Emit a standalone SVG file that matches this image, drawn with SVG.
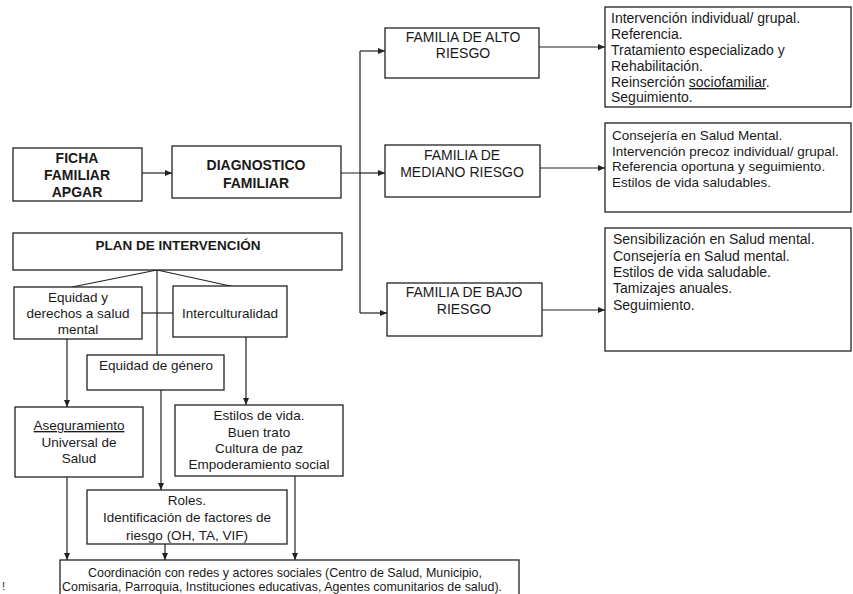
<svg xmlns="http://www.w3.org/2000/svg" width="853" height="594" viewBox="0 0 853 594">
<style>
rect{fill:#fff;stroke:#222;stroke-width:1.3}
text{font-family:"Liberation Sans",Arial,sans-serif;fill:#1a1a1a}
.b{font-weight:bold;font-size:14px;text-anchor:middle}
.m{font-size:13.5px;text-anchor:middle}
.f{font-size:14px;text-anchor:middle}
.l{font-size:14px}
.l2{font-size:13.5px}
.c{font-size:13px}
.ln{stroke:#222;stroke-width:1.2;fill:none}
.ar{stroke:#222;stroke-width:1.2;fill:none;marker-end:url(#ah)}
</style>
<defs>
<marker id="ah" markerWidth="8" markerHeight="6" refX="7" refY="3" orient="auto" markerUnits="userSpaceOnUse">
<path d="M0,0 L7,3 L0,6 Z" fill="#222"/>
</marker>
</defs>
<rect x="0" y="0" width="853" height="594" style="fill:#fff;stroke:none"/>
<g id="connectors">
<path class="ar" d="M142,173 H172"/>
<path class="ln" d="M341,173 H360 M360,51 V313"/>
<path class="ar" d="M360,51 H385"/>
<path class="ar" d="M360,173 H385"/>
<path class="ar" d="M360,313 H387"/>
<path class="ar" d="M539,47 H605"/>
<path class="ar" d="M540,168 H605"/>
<path class="ar" d="M542,310 H605"/>
<path class="ln" d="M157,270 L72,287 M157,270 L235,287 M157,270 V355"/>
<path class="ln" d="M142,313 H173"/>
<path class="ar" d="M67,339 V407"/>
<path class="ar" d="M246,337 V405"/>
<path class="ar" d="M161,390 V490"/>
<path class="ar" d="M67,477 V560"/>
<path class="ar" d="M165,544 V560"/>
<path class="ar" d="M295,476 V560"/>
</g>
<g id="ficha">
<rect x="13" y="148" width="129" height="53"/>
<text class="b" x="77" y="163">FICHA</text>
<text class="b" x="77" y="180">FAMILIAR</text>
<text class="b" x="77" y="197">APGAR</text>
</g>
<g id="diagnostico">
<rect x="172" y="146" width="169" height="52"/>
<text class="b" x="256" y="170">DIAGNOSTICO</text>
<text class="b" x="256" y="188">FAMILIAR</text>
</g>
<g id="alto">
<rect x="385" y="28" width="154" height="50"/>
<text class="f" x="463" y="42">FAMILIA DE ALTO</text>
<text class="f" x="463" y="58">RIESGO</text>
</g>
<g id="mediano">
<rect x="385" y="145" width="155" height="52"/>
<text class="f" x="462" y="160">FAMILIA DE</text>
<text class="f" x="462" y="177">MEDIANO RIESGO</text>
</g>
<g id="bajo">
<rect x="387" y="283" width="155" height="53"/>
<text class="f" x="464" y="297">FAMILIA DE BAJO</text>
<text class="f" x="464" y="314">RIESGO</text>
</g>
<g id="alto-acciones">
<rect x="605" y="7" width="246" height="100"/>
<text class="l" x="611" y="23">Intervención individual/ grupal.</text>
<text class="l" x="611" y="39">Referencia.</text>
<text class="l" x="611" y="55">Tratamiento especializado y</text>
<text class="l" x="611" y="71">Rehabilitación.</text>
<text class="l" x="611" y="87">Reinserción <tspan text-decoration="underline">sociofamiliar</tspan>.</text>
<text class="l" x="611" y="102">Seguimiento.</text>
</g>
<g id="mediano-acciones">
<rect x="605" y="123" width="246" height="89"/>
<text class="l2" x="612" y="140">Consejería en Salud Mental.</text>
<text class="l2" x="612" y="155.5">Intervención precoz individual/ grupal.</text>
<text class="l2" x="612" y="171">Referencia oportuna y seguimiento.</text>
<text class="l2" x="612" y="186.5">Estilos de vida saludables.</text>
</g>
<g id="bajo-acciones">
<rect x="605" y="228" width="246" height="123"/>
<text class="l" x="613" y="244">Sensibilización en Salud mental.</text>
<text class="l" x="613" y="261">Consejería en Salud mental.</text>
<text class="l" x="613" y="277">Estilos de vida saludable.</text>
<text class="l" x="613" y="293">Tamizajes anuales.</text>
<text class="l" x="613" y="310">Seguimiento.</text>
</g>
<g id="plan">
<rect x="13" y="233" width="329" height="37"/>
<text class="b" x="178" y="250" style="font-size:13.5px">PLAN DE INTERVENCIÓN</text>
</g>
<g id="equidad-derechos">
<rect x="14" y="287" width="128" height="52"/>
<text class="m" x="78" y="302">Equidad y</text>
<text class="m" x="78" y="318">derechos a salud</text>
<text class="m" x="78" y="334">mental</text>
</g>
<g id="interculturalidad">
<rect x="173" y="286" width="114" height="51"/>
<text class="m" x="230" y="318">Interculturalidad</text>
</g>
<g id="equidad-genero">
<rect x="87" y="355" width="137" height="35"/>
<text class="m" x="156" y="370">Equidad de género</text>
</g>
<g id="aseguramiento">
<rect x="15" y="407" width="128" height="70"/>
<text class="m" x="79" y="430" text-decoration="underline">Aseguramiento</text>
<text class="m" x="79" y="447">Universal de</text>
<text class="m" x="79" y="463">Salud</text>
</g>
<g id="estilos">
<rect x="175" y="405" width="168" height="71"/>
<text class="m" x="259" y="420">Estilos de vida.</text>
<text class="m" x="259" y="437">Buen trato</text>
<text class="m" x="259" y="453">Cultura de paz</text>
<text class="m" x="259" y="469">Empoderamiento social</text>
</g>
<g id="roles">
<rect x="87" y="490" width="200" height="54"/>
<text class="m" x="187" y="505">Roles.</text>
<text class="m" x="187" y="522">Identificación de factores de</text>
<text class="m" x="187" y="540">riesgo (OH, TA, VIF)</text>
</g>
<g id="coordinacion">
<rect x="60" y="560" width="459" height="40"/>
<text class="c" x="88" y="577" textLength="394" lengthAdjust="spacingAndGlyphs">Coordinación con redes y actores sociales (Centro de Salud, Municipio,</text>
<text class="c" x="62" y="591" textLength="440" lengthAdjust="spacingAndGlyphs">Comisaria, Parroquia, Instituciones educativas, Agentes comunitarios de salud).</text>
</g>
<text x="2" y="590" style="font-size:11px">!</text>
</svg>
